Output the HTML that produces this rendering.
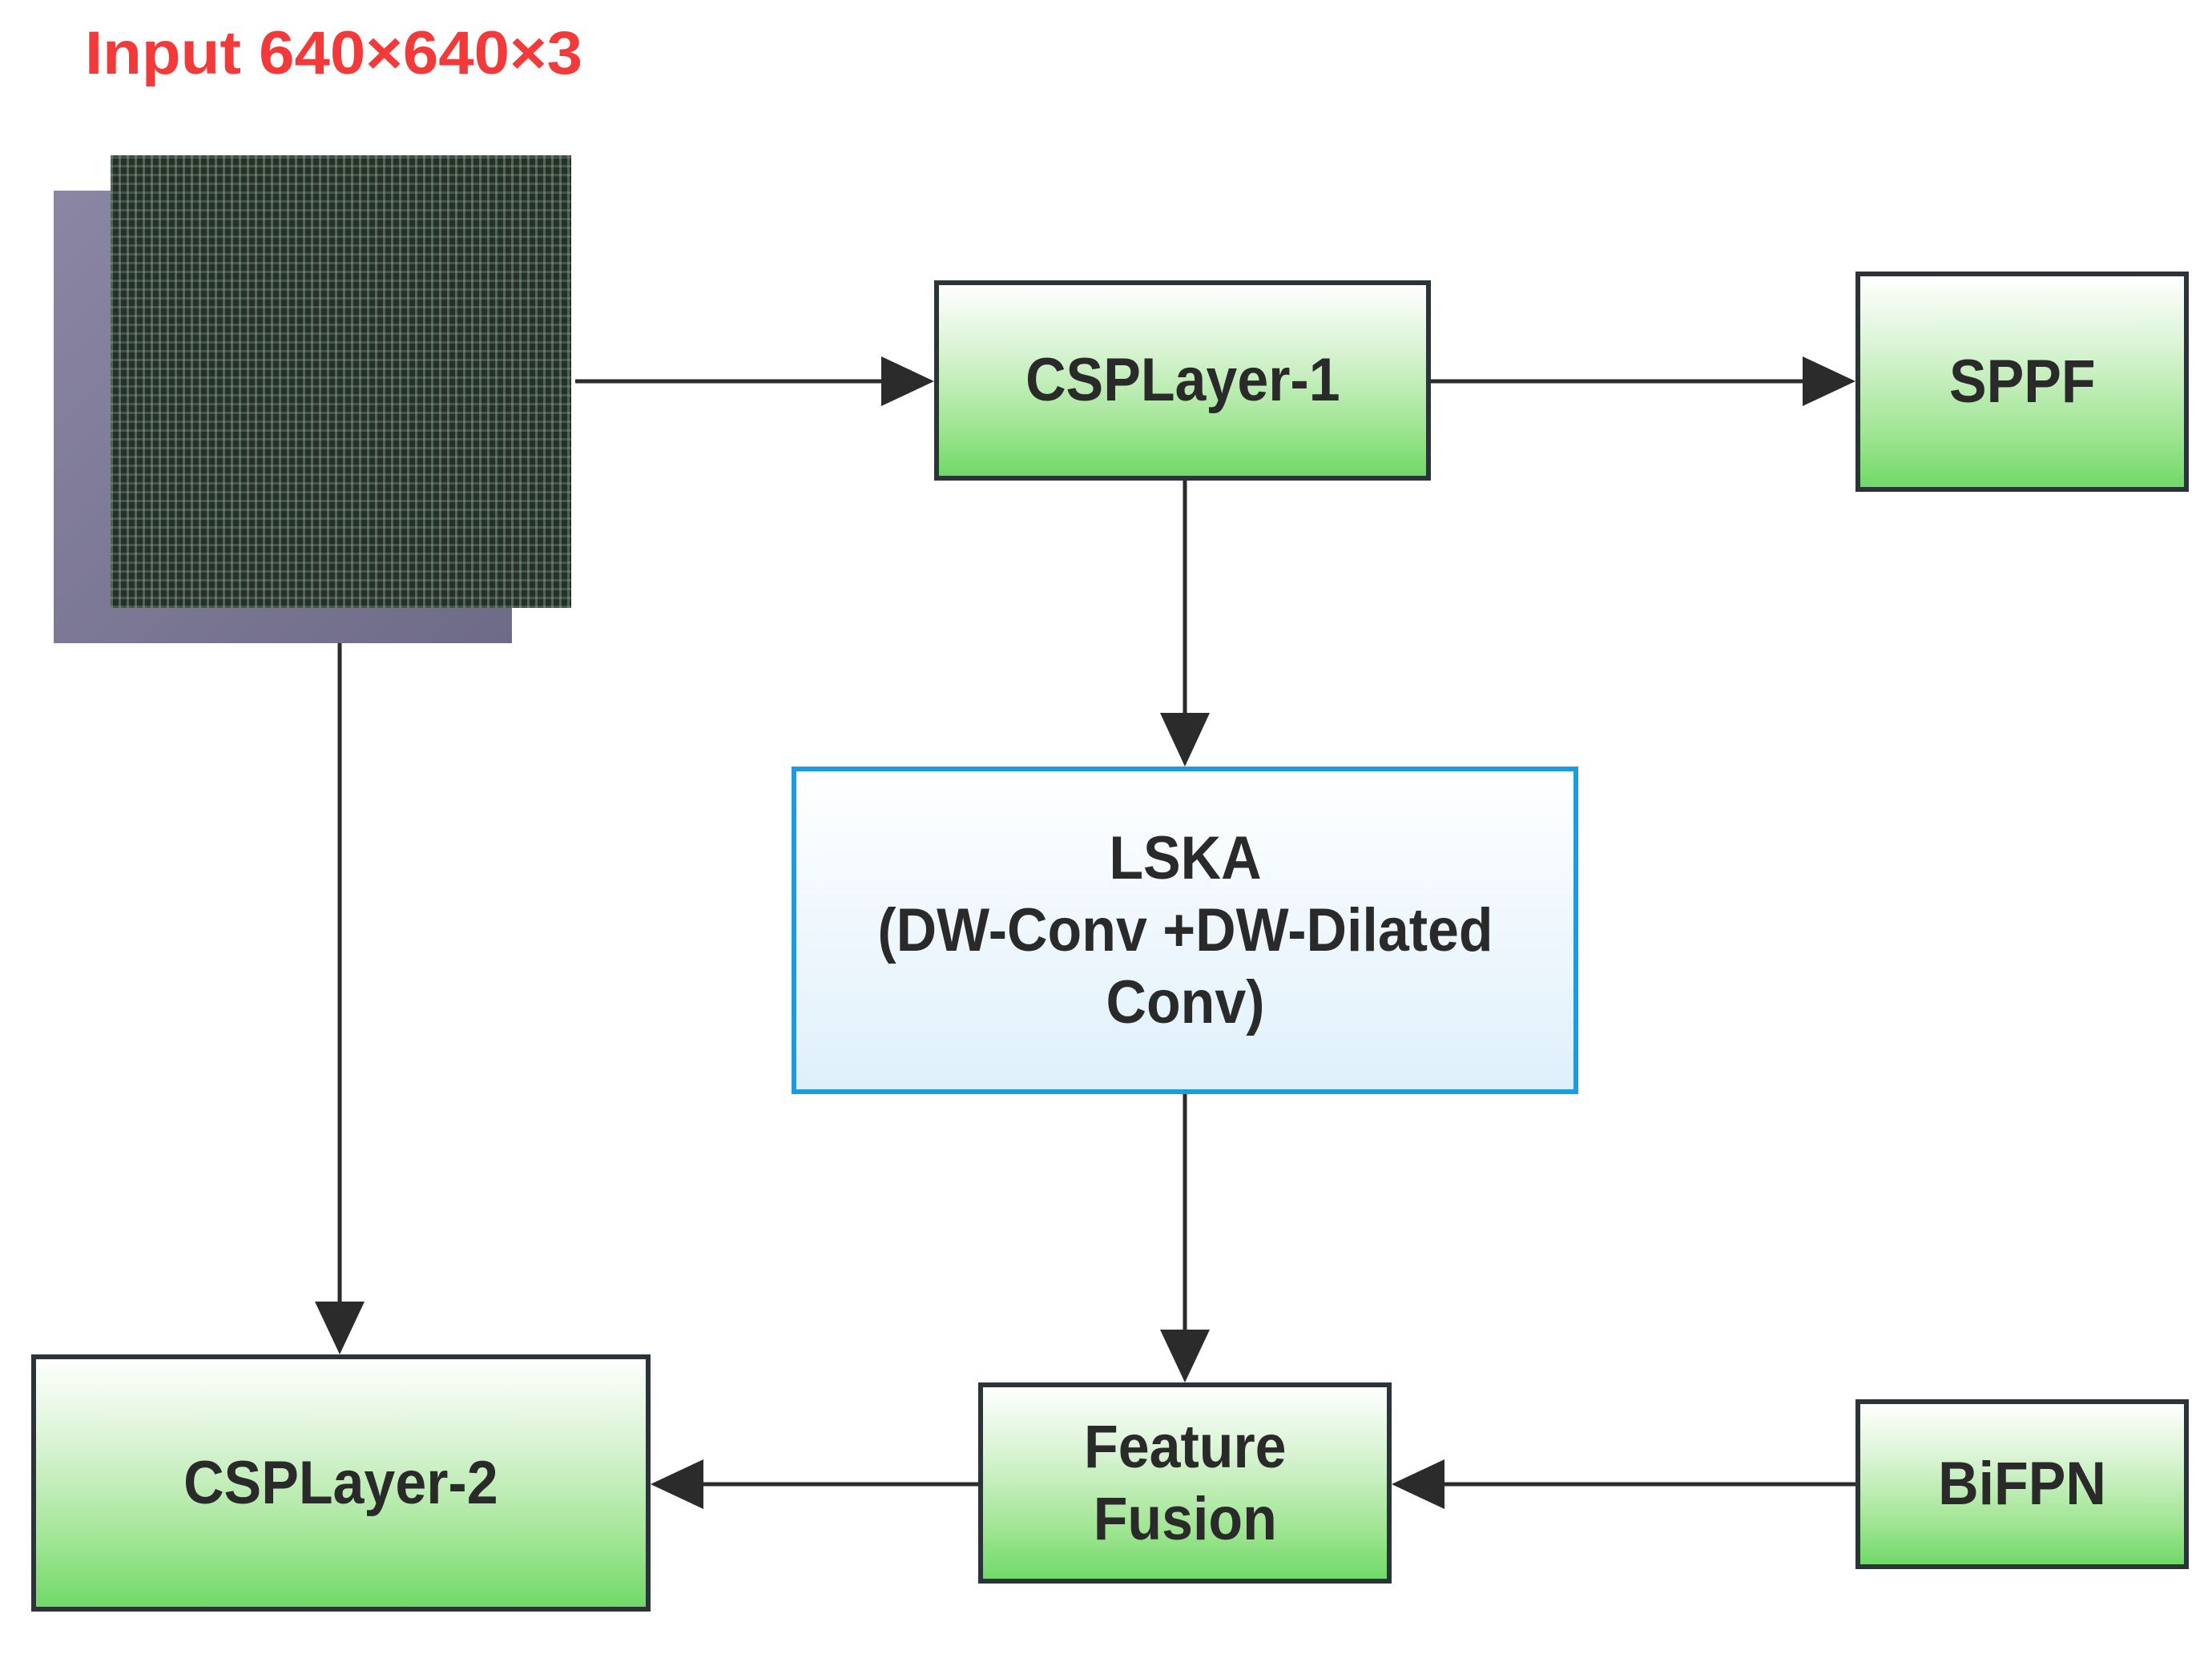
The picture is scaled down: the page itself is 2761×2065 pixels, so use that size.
<!DOCTYPE html>
<html><head><meta charset="utf-8"><style>
html,body{margin:0;padding:0;background:#fff;}
body{width:2761px;height:2065px;position:relative;overflow:hidden;font-family:"Liberation Sans",sans-serif;}
.box{position:absolute;box-sizing:border-box;border:6px solid #2b3438;display:flex;align-items:center;justify-content:center;text-align:center;color:#2a2a2a;font-size:76px;font-weight:bold;line-height:90px;background:linear-gradient(#ffffff 0%,#d8f3d2 35%,#9fe592 75%,#70d968 100%);}
.box span{display:inline-block;transform:scaleX(0.92);white-space:nowrap;}
.blue{border:6px solid #1c9be0;background:linear-gradient(#ffffff,#dff0fb);}
</style></head><body>
<div style="position:absolute;left:106px;top:22px;color:#f23a3a;font-size:76px;font-weight:bold;line-height:90px;transform:scaleX(1.05);transform-origin:left;white-space:nowrap;">Input 640×640×3</div>
<div style="position:absolute;left:67px;top:238px;width:572px;height:565px;background:linear-gradient(135deg,#8a86a4,#6e6b88);"></div>
<div style="position:absolute;left:138px;top:194px;width:575px;height:565px;background-color:#263029;background-image:repeating-linear-gradient(90deg,rgba(160,200,170,.35) 0 3px,transparent 3px 10px),repeating-linear-gradient(0deg,rgba(140,170,150,.3) 0 3px,transparent 3px 11px);"></div>
<div class="box" style="left:1166px;top:350px;width:620px;height:250px;"><span>CSPLayer-1</span></div>
<div class="box" style="left:2316px;top:339px;width:416px;height:275px;"><span>SPPF</span></div>
<div class="box blue" style="left:988px;top:957px;width:982px;height:409px;"><span>LSKA<br>(DW-Conv +DW-Dilated<br>Conv)</span></div>
<div class="box" style="left:39px;top:1691px;width:773px;height:321px;"><span>CSPLayer-2</span></div>
<div class="box" style="left:1221px;top:1726px;width:516px;height:251px;"><span>Feature<br>Fusion</span></div>
<div class="box" style="left:2316px;top:1747px;width:416px;height:212px;"><span>BiFPN</span></div>
<svg width="2761" height="2065" style="position:absolute;left:0;top:0" xmlns="http://www.w3.org/2000/svg">
<g stroke="#2b2b2b" stroke-width="5" fill="#2b2b2b">
<line x1="718" y1="476" x2="1100" y2="476"/><polygon points="1166,476 1100,445 1100,507" stroke="none"/>
<line x1="1786" y1="476" x2="2250" y2="476"/><polygon points="2316,476 2250,445 2250,507" stroke="none"/>
<line x1="1479" y1="600" x2="1479" y2="890"/><polygon points="1479,957 1448,890 1510,890" stroke="none"/>
<line x1="1479" y1="1366" x2="1479" y2="1660"/><polygon points="1479,1726 1448,1660 1510,1660" stroke="none"/>
<line x1="424" y1="803" x2="424" y2="1625"/><polygon points="424,1691 393,1625 455,1625" stroke="none"/>
<line x1="1221" y1="1853" x2="878" y2="1853"/><polygon points="812,1853 878,1822 878,1884" stroke="none"/>
<line x1="2316" y1="1853" x2="1803" y2="1853"/><polygon points="1737,1853 1803,1822 1803,1884" stroke="none"/>
</g></svg>
</body></html>
